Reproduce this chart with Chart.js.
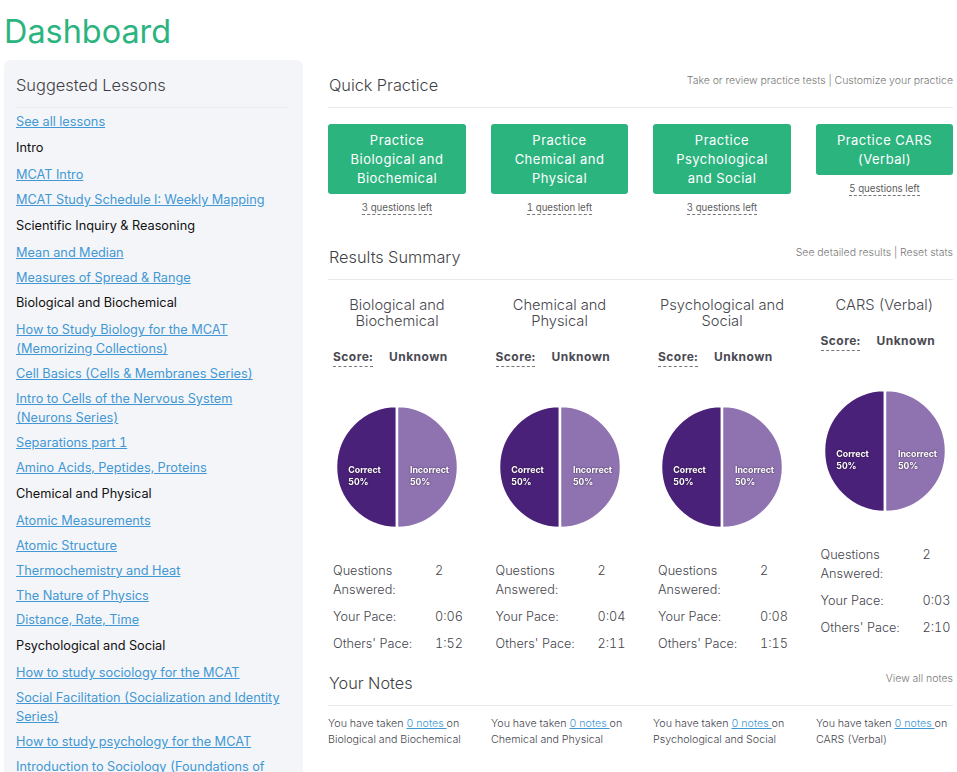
<!DOCTYPE html>
<html>
<head>
<meta charset="utf-8">
<title>Dashboard</title>
<script src="https://cdn.jsdelivr.net/npm/chart.js@4/dist/chart.umd.min.js"></script>
<style>
html, body { margin: 0; padding: 0; background: #fff; }
body { width: 957px; height: 772px; overflow: hidden; position: relative; font-family: Inter, "Noto Sans", sans-serif; color: #4b4b55; font-variant-numeric: tabular-nums; }
a { color: #4298d4; text-decoration: underline; }
h1 { position: absolute; left: 4px; top: 12px; margin: 0; font-size: 32.4px; line-height: 40px; font-weight: 400; color: #2cb47f; }
#side { position: absolute; left: 4px; top: 60px; width: 299px; height: 730px; background: #f4f5f9; border-radius: 7px; }
#side h2 { position: absolute; left: 12px; top: 14px; margin: 0; font-size: 16.4px; line-height: 22px; font-weight: 300; color: #3f3f46; }
#side hr { position: absolute; left: 12px; top: 47px; width: 272px; margin: 0; border: 0; border-top: 1px solid #e9eaee; }
#lessons { position: absolute; left: 12px; top: 52px; width: 272px; font-size: 12.75px; line-height: 19px; }
#lessons div { margin-bottom: 5.9px; }
#lessons div.head { color: #111; padding-top: 1px; margin-bottom: 8px; }
.sec { position: absolute; left: 329px; font-size: 16.3px; line-height: 22px; font-weight: 300; color: #3f3f46; }
.rule { position: absolute; left: 328px; width: 625px; border-top: 1px solid #e9eaee; }
.side-link { position: absolute; right: 4px; font-size: 10.5px; line-height: 14px; color: #777; font-weight: 300; }
.btn { position: absolute; background: #2cb47f; color: #fff; border-radius: 3px; text-align: center; font-size: 13px; line-height: 19px; padding: 6.5px 0 0; box-sizing: border-box; letter-spacing: 0.5px; }
.left { position: absolute; text-align: center; font-size: 9.7px; line-height: 13px; color: #5c5c5c; }
.left span { border-bottom: 1px dashed #777; padding-bottom: 1px; }
.title { position: absolute; text-align: center; font-size: 14.7px; line-height: 16px; font-weight: 300; color: #45454d; }
.score { position: absolute; font-size: 12px; line-height: 16px; font-weight: 700; color: #4a4a52; letter-spacing: 0.45px; }
.score.lab { border-bottom: 1px dashed #777; padding-bottom: 1px; }
.stat { position: absolute; font-size: 12.7px; line-height: 19px; font-weight: 300; color: #45454d; }
.note { position: absolute; width: 142px; font-size: 10.7px; line-height: 16px; font-weight: 300; color: #45454d; }
canvas { position: absolute; }
</style>
</head>
<body>
<h1>Dashboard</h1>
<div id="side">
  <h2>Suggested Lessons</h2>
  <hr>
  <div id="lessons"></div>
</div>
<script>
// sidebar rows, h: marks a heading
const lessons = ['See all lessons', 'h:Intro', 'MCAT Intro', 'MCAT Study Schedule I: Weekly Mapping',
  'h:Scientific Inquiry & Reasoning', 'Mean and Median', 'Measures of Spread & Range',
  'h:Biological and Biochemical', 'How to Study Biology for the MCAT (Memorizing Collections)',
  'Cell Basics (Cells & Membranes Series)', 'Intro to Cells of the Nervous System (Neurons Series)',
  'Separations part 1', 'Amino Acids, Peptides, Proteins', 'h:Chemical and Physical',
  'Atomic Measurements', 'Atomic Structure', 'Thermochemistry and Heat', 'The Nature of Physics',
  'Distance, Rate, Time', 'h:Psychological and Social', 'How to study sociology for the MCAT',
  'Social Facilitation (Socialization and Identity Series)', 'How to study psychology for the MCAT',
  'Introduction to Sociology (Foundations of Society)'];

const buttonLabels = ['Practice<br>Biological and<br>Biochemical', 'Practice<br>Chemical and<br>Physical',
  'Practice<br>Psychological<br>and Social', 'Practice CARS<br>(Verbal)'];
const questionsLeft = ['3 questions left', '1 question left', '3 questions left', '5 questions left'];
const sections = ['Biological and<br>Biochemical', 'Chemical and<br>Physical', 'Psychological and<br>Social', 'CARS (Verbal)'];
const noteSections = ['Biological and Biochemical', 'Chemical and Physical', 'Psychological and Social', 'CARS (Verbal)'];

// pie data
const pieLabels = ['Correct', 'Incorrect'];
const bioValues = [50, 50];
const chemValues = [50, 50];
const psychValues = [50, 50];
const carsValues = [50, 50];
const pieValues = [bioValues, chemValues, psychValues, carsValues];

const answered = ['2', '2', '2', '2'];
const yourPace = ['0:06', '0:04', '0:08', '0:03'];
const othersPace = ['1:52', '2:11', '1:15', '2:10'];

function add(cls, left, top, html) {
    const el = document.createElement('div');
    el.className = cls;
    if (left !== null) el.style.left = left + 'px';
    el.style.top = top + 'px';
    el.innerHTML = html;
    document.body.appendChild(el);
    return el;
}

// Sidebar list
const list = document.getElementById('lessons');
lessons.forEach(function(item) {
    const row = document.createElement('div');
    if (item.startsWith('h:')) {
        row.className = 'head';
        row.textContent = item.slice(2);
    } else {
        const a = document.createElement('a');
        a.href = '#';
        a.textContent = item;
        row.appendChild(a);
    }
    list.appendChild(row);
});

// Section headers
add('sec', 329, 74, 'Quick Practice');
add('rule', null, 107, '');
add('side-link', null, 74, 'Take or review practice tests | Customize your practice');
add('sec', 329, 246, 'Results Summary');
add('rule', null, 279, '');
add('side-link', null, 246, 'See detailed results | Reset stats');
add('sec', 329, 672, 'Your Notes');
add('rule', null, 705, '');
add('side-link', null, 672, 'View all notes');

// Pie labels plugin, left aligned like the original
const sliceLabels = {
    id: 'sliceLabels',
    afterDatasetsDraw: function(chart) {
        const ctx = chart.ctx;
        const meta = chart.getDatasetMeta(0);
        ctx.save();
        ctx.font = '700 8.8px Inter, sans-serif';
        ctx.fillStyle = '#fff';
        ctx.shadowColor = 'rgba(0,0,0,0.6)';
        ctx.shadowBlur = 2;
        ctx.textBaseline = 'middle';
        meta.data.forEach(function(arc, i) {
            const pos = arc.tooltipPosition();
            const name = chart.data.labels[i];
            // nudge outward, the original sits a little further from the centre
            const x = pos.x - ctx.measureText(name).width / 2 + (i === 0 ? -2 : 2);
            ctx.fillText(name, x, pos.y + 3);
            ctx.fillText(chart.data.datasets[0].data[i] + '%', x, pos.y + 15);
        });
        ctx.restore();
    }
};

const colLeft = [328, 491, 653, 816];
const colWidth = [138, 137, 138, 137];
colLeft.forEach(function(x, i) {
    const dy = i === 3 ? -16 : 0;
    const w = colWidth[i];
    const tx = x - (i % 2 ? 0.5 : 0);   // text in columns 2 and 4 sits half a pixel left
    const btn = add('btn', x, 124, buttonLabels[i]);
    btn.style.width = w + 'px';
    btn.style.height = (i === 3 ? 51 : 70) + 'px';
    add('left', x, i === 3 ? 182 : 201, '<span>' + questionsLeft[i] + '</span>').style.width = w + 'px';
    add('title', x, 297, sections[i]).style.width = w + 'px';
    add('score lab', tx + 5, 349 + dy, 'Score:');
    add('score', tx + 61, 349 + dy, 'Unknown');

    const canvas = document.createElement('canvas');
    canvas.width = 160;
    canvas.height = 160;
    canvas.style.left = (x - 11) + 'px';
    canvas.style.top = (387 + dy) + 'px';
    canvas.style.width = '160px';
    canvas.style.height = '160px';
    document.body.appendChild(canvas);
    new Chart(canvas.getContext('2d'), {
        type: 'pie',
        data: {
            labels: pieLabels,
            datasets: [{
                data: pieValues[i],
                backgroundColor: ['#4a2178', '#8f72b0'],
                borderColor: '#fff',
                borderWidth: 2.5,
                radius: 61
            }]
        },
        options: {
            responsive: false,
            animation: false,
            rotation: 180,
            plugins: { legend: { display: false }, tooltip: { enabled: false } }
        },
        plugins: [sliceLabels]
    });

    add('stat', tx + 5, 561 + dy, 'Questions<br>Answered:');
    add('stat', tx + 107, 561 + dy, answered[i]);
    add('stat', tx + 5, 607 + dy, 'Your Pace:');
    add('stat', tx + 107, 607 + dy, yourPace[i]);
    add('stat', tx + 5, 634 + dy, "Others' Pace:");
    add('stat', tx + 107, 634 + dy, othersPace[i]);
    add('note', x, 716, 'You have taken <a href="#">0 notes </a>on<br>' + noteSections[i]);
});
</script>
</body>
</html>
